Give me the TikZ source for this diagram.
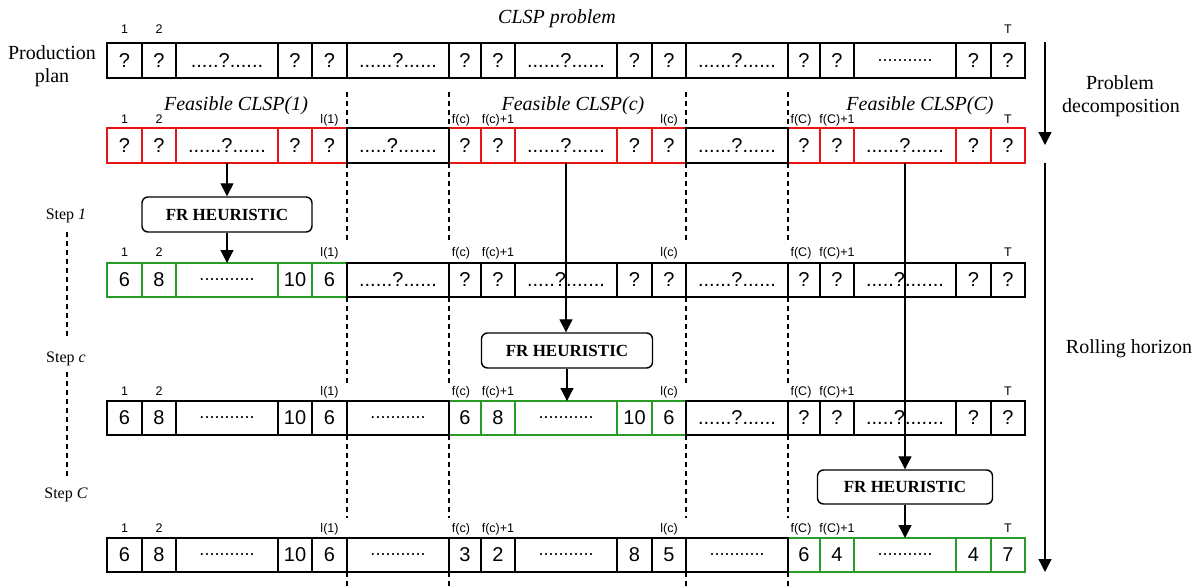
\documentclass[tikz,border=0pt]{standalone}
\usepackage{fontspec}
\setmainfont{Liberation Serif}
\newfontfamily\arial{Liberation Sans}
\usetikzlibrary{arrows.meta}
\definecolor{cred}{RGB}{230,20,20}
\definecolor{cgreen}{RGB}{40,155,40}
\newcommand\dd{{\fontsize{18}{20}\selectfont...........}}
\newcommand\qa{.....?......}
\newcommand\qb{......?......}
\newcommand\qc{.....?.......}
\newcommand\cellrow[4]{%
  \foreach \ci/\xa/\xb/\tx/\cl in {#4}{
    \node[cell, draw=\cl, minimum width={(\xb-\xa)*1pt}, minimum height=#3pt] (r#1c\ci) at ({(\xa+\xb)/2},{#2+#3/2}) {\tx};
  }}
\newcommand\toplabels[2]{%
  \foreach \ci/\tx/\sh in {1/1/0,2/2/0,5/l(1)/0,7/f(c)/-4,8/f(c)+1/0,11/l(c)/0,13/f(C)/-3,14/f(C)+1/0,17/T/0}{
    \node[lab, xshift=\sh*1pt, yshift=#2pt] (lab#1-\ci) at (r#1c\ci.north) {\tx};
  }}
\begin{document}
\begin{tikzpicture}[x=1pt,y=-1pt,
  cell/.style={line width=1.3pt, inner sep=0pt, outer sep=0pt, fill=white, font=\arial\fontsize{20}{24}\selectfont},
  lab/.style={anchor=base, inner sep=0pt, font=\arial\fontsize{12.5}{14}\selectfont},
  serif/.style={anchor=base, inner sep=0pt, font=\fontsize{20}{24}\selectfont},
  ital/.style={anchor=base, inner sep=0pt, font=\itshape\fontsize{20}{24}\selectfont},
  steplab/.style={anchor=base, inner sep=0pt, font=\fontsize{16}{19}\selectfont},
  frbox/.style={draw, line width=1.4pt, rounded corners=6pt, fill=white, inner sep=0pt, font=\bfseries\fontsize{17}{20}\selectfont},
  arr/.style={line width=1.3pt, -{Triangle[width=13pt,length=13pt]}},
  guide/.style={line width=1.4pt, dash pattern=on 5pt off 4pt},
]
\useasboundingbox (0,0) rectangle (1199,587);

% dashed vertical separators
\foreach \gx in {347,449,686,788}{
  \foreach \ya/\yb in {92/128,163/242,297/383,435/518,572/587}{
    \draw[guide] (\gx,\ya) -- (\gx,\yb);
  }}

% row 0: production plan
\cellrow{0}{43}{35}{1/107/142/?/black,2/142/176/?/black,3/176/278/\qa/black,4/278/312/?/black,5/312/347/?/black,6/347/449/\qb/black,7/449/481/?/black,8/481/515/?/black,9/515/617/\qb/black,10/617/652/?/black,11/652/686/?/black,12/686/788/\qb/black,13/788/820/?/black,14/820/854/?/black,15/854/956/\dd/black,16/956/991/?/black,17/991/1025/?/black}
\node[lab, yshift=9.5pt] (lab0-1) at (r0c1.north) {1};
\node[lab, yshift=9.5pt] (lab0-2) at (r0c2.north) {2};
\node[lab, yshift=9.5pt] (lab0-17) at (r0c17.north) {T};

% row 1: decomposition
\cellrow{1}{128}{35}{1/107/142/?/cred,2/142/176/?/cred,3/176/278/\qb/cred,4/278/312/?/cred,5/312/347/?/cred,7/449/481/?/cred,8/481/515/?/cred,9/515/617/\qb/cred,10/617/652/?/cred,11/652/686/?/cred,13/788/820/?/cred,14/820/854/?/cred,15/854/956/\qb/cred,16/956/991/?/cred,17/991/1025/?/cred,6/347/449/\qc/black,12/686/788/\qb/black}
\toplabels{1}{5}

% row 2: step 1
\cellrow{2}{263}{34}{1/107/142/6/cgreen,2/142/176/8/cgreen,3/176/278/\dd/cgreen,4/278/312/10/cgreen,5/312/347/6/cgreen,6/347/449/\qb/black,7/449/481/?/black,8/481/515/?/black,9/515/617/\qc/black,10/617/652/?/black,11/652/686/?/black,12/686/788/\qb/black,13/788/820/?/black,14/820/854/?/black,15/854/956/\qc/black,16/956/991/?/black,17/991/1025/?/black}
\toplabels{2}{7}

% row 3: step c
\cellrow{3}{401}{34}{7/449/481/6/cgreen,8/481/515/8/cgreen,9/515/617/\dd/cgreen,10/617/652/10/cgreen,11/652/686/6/cgreen,1/107/142/6/black,2/142/176/8/black,3/176/278/\dd/black,4/278/312/10/black,5/312/347/6/black,6/347/449/\dd/black,12/686/788/\qb/black,13/788/820/?/black,14/820/854/?/black,15/854/956/\qc/black,16/956/991/?/black,17/991/1025/?/black}
\toplabels{3}{6}

% row 4: step C
\cellrow{4}{538}{34}{13/788/820/6/cgreen,14/820/854/4/cgreen,15/854/956/\dd/cgreen,16/956/991/4/cgreen,17/991/1025/7/cgreen,1/107/142/6/black,2/142/176/8/black,3/176/278/\dd/black,4/278/312/10/black,5/312/347/6/black,6/347/449/\dd/black,7/449/481/3/black,8/481/515/2/black,9/515/617/\dd/black,10/617/652/8/black,11/652/686/5/black,12/686/788/\dd/black}
\toplabels{4}{6}

% FR heuristic boxes
\node[frbox, minimum width=170pt, minimum height=35pt] (fr1) at (227,214.5) {FR HEURISTIC};
\node[frbox, minimum width=171pt, minimum height=35pt] (fr2) at (567,350.5) {FR HEURISTIC};
\node[frbox, minimum width=175pt, minimum height=34pt] (fr3) at (905,487) {FR HEURISTIC};

% arrows through the heuristic
\draw[arr] (r1c3.south) -- (fr1.north);
\draw[arr] (fr1.south) -- (r2c3.north);
\draw[arr] (r1c9.south) -- (r1c9.south |- fr2.north);
\draw[arr] (fr2.south) -- (fr2.south |- r3c9.north);
\draw[arr] (r1c15.south) -- (r1c15.south |- fr3.north);
\draw[arr] (fr3.south) -- (fr3.south |- r4c15.north);

% titles
\node[ital] (title) at (557,23) {CLSP problem};
\node[ital] (fc1) at (236,110) {Feasible CLSP(1)};
\node[ital] (fcc) at (573,110) {Feasible CLSP(c)};
\node[ital] (fcC) at (920,110) {Feasible CLSP(C)};

\node[serif] (pp1) at (52,59) {Production};
\node[serif] (pp2) at (52,82) {plan};

\node[serif] (pd1) at (1120,89) {Problem};
\node[serif] (pd2) at (1121,112) {decomposition};
\node[serif] (rh) at (1129,353) {Rolling horizon};

% right arrows
\coordinate (pdA) at (1045,42);
\coordinate (pdB) at (1045,145);
\coordinate (rhA) at (1045,163);
\coordinate (rhB) at (1045,572);
\draw[arr] (pdA) -- (pdB);
\draw[arr] (rhA) -- (rhB);

% steps
\node[steplab] (st1) at (66,219) {Step \textit{1}};
\node[steplab] (stc) at (66,362) {Step \textit{c}};
\node[steplab] (stC) at (66,498) {Step \textit{C}};
\coordinate (s1a) at (67,232);
\coordinate (s1b) at (67,338);
\coordinate (s2a) at (67,372);
\coordinate (s2b) at (67,478);
\draw[guide] (s1a) -- (s1b);
\draw[guide] (s2a) -- (s2b);
\end{tikzpicture}
\end{document}
